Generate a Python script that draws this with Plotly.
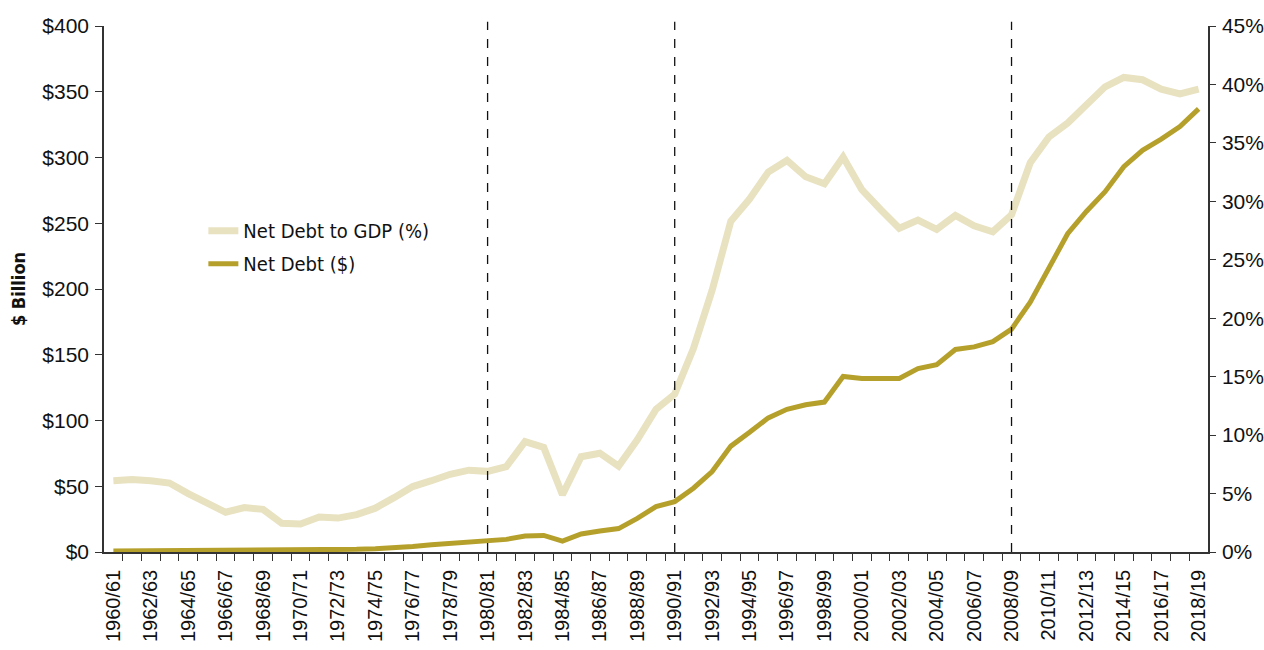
import plotly.graph_objects as go

years = [f"{y}/{str(y+1)[-2:]}" for y in range(1960, 2019)]

debt_to_gdp_pct = [6.1, 6.2, 6.1, 5.9, 5.0, 4.2, 3.4, 3.8, 3.65, 2.45,
                   2.4, 3.0, 2.9, 3.2, 3.75, 4.65, 5.6, 6.1, 6.65, 7.0,
                   6.9, 7.3, 9.45, 8.95, 4.9, 8.15, 8.45, 7.35, 9.6, 12.2,
                   13.5, 17.4, 22.4, 28.3, 30.2, 32.5, 33.5, 32.1, 31.5, 33.8,
                   31.0, 29.3, 27.7, 28.4, 27.6, 28.8, 27.9, 27.4, 28.85, 33.3,
                   35.5, 36.7, 38.3, 39.8, 40.6, 40.4, 39.6, 39.2, 39.6]

net_debt_bn = [0.8, 0.9, 0.9, 1.0, 1.0, 0.9, 0.9, 1.1, 1.2, 0.8,
               0.9, 1.2, 1.5, 2.0, 2.5, 3.0, 4.2, 5.5, 6.6, 7.6,
               8.2, 9.6, 12.2, 12.6, 8.3, 13.7, 16.0, 17.8, 25.6, 34.5,
               38.3, 48.5, 61.2, 80.5, 91, 102, 108.5, 112, 114, 133.5,
               132, 132, 132, 139.5, 142.5, 154, 156, 160, 169.5, 190,
               216, 242, 259, 274, 293, 305.5, 314, 323.5, 337]

marker_years = ["1980/81", "1990/91", "2008/09"]

idx = list(range(len(years)))
tick_idx = idx[::2]
tick_text = years[::2]

LIGHT = "#E8E2C1"
DARK = "#B6A02C"
XTICK_FONT = dict(family="Liberation Sans, Arial, sans-serif", size=20, color="#111")
YTICK_FONT = dict(family="Liberation Sans, Arial, sans-serif", size=21, color="#111")
NARROW = "Liberation Sans Narrow, DejaVu Sans Condensed, Arial Narrow, sans-serif"

fig = go.Figure()
fig.add_trace(go.Scatter(x=idx, y=debt_to_gdp_pct, mode="lines", name="Net Debt to GDP (%)",
                         line=dict(color=LIGHT, width=7), yaxis="y2",
                         legendgroup="a"))
fig.add_trace(go.Scatter(x=idx, y=net_debt_bn, mode="lines", name="Net Debt ($)",
                         line=dict(color=DARK, width=5), yaxis="y",
                         legendgroup="b"))

for my in marker_years:
    xi = years.index(my)
    fig.add_shape(type="line", xref="x", yref="paper", x0=xi, x1=xi, y0=0, y1=1.008,
                  line=dict(color="#111", width=1.3, dash="9px,9px"))

fig.update_layout(
    width=1264, height=650,
    margin=dict(l=104, r=56, t=26, b=98),
    plot_bgcolor="white", paper_bgcolor="white",
    showlegend=True,
    legend=dict(x=0.09, y=0.648, xanchor="left", yanchor="top",
                font=dict(family=NARROW, size=20, color="#111"),
                bgcolor="rgba(0,0,0,0)", tracegroupgap=4, traceorder="grouped"),
    xaxis=dict(range=[-0.5, len(years) - 0.5], tickmode="array", tickvals=tick_idx,
               ticktext=tick_text, tickangle=-90, ticks="", showgrid=False, zeroline=False,
               showline=True, linecolor="#333", linewidth=1.5, tickfont=XTICK_FONT,
               ticklabelstandoff=8, automargin=False,
               minor=dict(tickvals=[i + 0.5 for i in idx[:-1]], ticks="outside",
                          ticklen=7, tickwidth=1, tickcolor="#333", showgrid=False)),
    yaxis=dict(range=[0, 400], dtick=50, tickprefix="$", showgrid=False, zeroline=False,
               showline=True, linecolor="#333", linewidth=1.5, ticks="outside", ticklen=7,
               tickcolor="#333", tickfont=YTICK_FONT, ticklabelstandoff=2, automargin=False,
               title=dict(text="<b>$ Billion</b>", font=dict(family=NARROW, size=18, color="#111"),
                          standoff=12)),
    yaxis2=dict(range=[0, 45], dtick=5, ticksuffix="%", overlaying="y", side="right",
                showgrid=False, zeroline=False, showline=True, linecolor="#333", linewidth=1.5,
                ticks="outside", ticklen=6, tickcolor="#333", tickfont=YTICK_FONT,
                ticklabelstandoff=2, automargin=False),
)

fig.write_html("out.html",
               post_script="document.body.style.margin='0';document.body.style.overflow='hidden';")
